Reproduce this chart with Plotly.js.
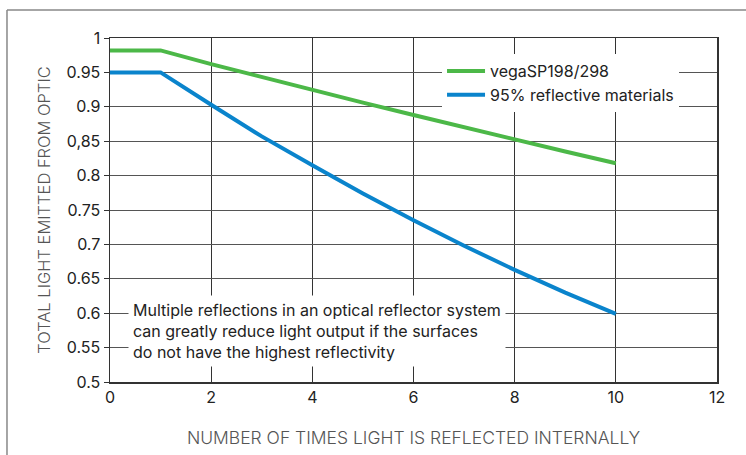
<!DOCTYPE html>
<html><head><meta charset="utf-8">
<script src="https://cdn.plot.ly/plotly-3.0.1.min.js"></script>
<style>html,body{margin:0;padding:0;background:#fff}#chart{width:746px;height:455px}</style>
</head><body><div id="chart"></div>
<script>
const reflections = [0, 1, 2, 3, 4, 5, 6, 7, 8, 9, 10];
const vegaSP = [0.982, 0.982, 0.962, 0.943, 0.924, 0.906, 0.888, 0.870, 0.852, 0.835, 0.818];
const reflective95 = [0.950, 0.950, 0.903, 0.857, 0.815, 0.774, 0.735, 0.698, 0.663, 0.630, 0.599];
const seriesNames = ['vegaSP198/298', '95% reflective materials'];
const yTickVals = [0.5, 0.55, 0.6, 0.65, 0.7, 0.75, 0.8, 0.85, 0.9, 0.95, 1];
const yTickText = ['0.5', '0.55', '0.6', '0.65', '0.7', '0.75', '0.8', '0,85', '0.9', '0.95', '1'];
const xTickVals = [0, 2, 4, 6, 8, 10, 12];
const noteText = 'Multiple reflections in an optical reflector system<br>can greatly reduce light output if the surfaces<br>do not have the highest reflectivity';

const font = 'Inter, Liberation Sans, Arial, sans-serif';
const traces = [
  {x: reflections, y: vegaSP, name: seriesNames[0], mode: 'lines', line: {color: '#4cb848', width: 4}},
  {x: reflections, y: reflective95, name: seriesNames[1], mode: 'lines', line: {color: '#0a84cc', width: 4}}
];
const layout = {
  width: 746, height: 455,
  margin: {l: 110, r: 29, t: 38, b: 73},
  paper_bgcolor: '#fff', plot_bgcolor: '#fff',
  font: {family: font, size: 16, color: '#222'},
  showlegend: true,
  legend: {x: 0.547, y: 0.9535, xanchor: 'left', yanchor: 'top', bgcolor: '#fff', borderwidth: 0,
    itemwidth: 38, font: {family: font, size: 16, color: '#222'}, tracegroupgap: 0},
  xaxis: {range: [0, 12], tickvals: xTickVals, showgrid: true, gridcolor: '#333', gridwidth: 1,
    showline: true, linecolor: '#333', linewidth: 1.5, mirror: true, zeroline: false, ticks: '',
    tickfont: {family: font, size: 16, color: '#222'},
    title: {text: 'NUMBER OF TIMES LIGHT IS REFLECTED INTERNALLY', font: {family: font, size: 17.5, color: '#555', weight: 300}, standoff: 26}},
  yaxis: {range: [0.5, 1], tickvals: yTickVals, ticktext: yTickText, showgrid: true, gridcolor: '#555', gridwidth: 1,
    showline: true, linecolor: '#333', linewidth: 1.5, mirror: true, zeroline: false, ticks: 'outside', ticklen: 5, tickcolor: '#333',
    tickfont: {family: font, size: 16, color: '#222'},
    title: {text: 'TOTAL LIGHT EMITTED FROM OPTIC', font: {family: font, size: 16.5, color: '#555', weight: 300}, standoff: 11}},
  annotations: [{xref: 'paper', yref: 'paper', x: 0.0297, y: 0.149, xanchor: 'left', yanchor: 'middle',
    text: noteText, showarrow: false, align: 'left', bgcolor: '#fff', borderpad: 4,
    font: {family: font, size: 16, color: '#222'}}],
  shapes: [
    {type: 'line', xref: 'paper', yref: 'paper', x0: -0.1697, x1: -0.1697, y0: 1.0814, y1: -0.3, line: {color: '#888', width: 1.5}},
    {type: 'line', xref: 'paper', yref: 'paper', x0: -0.1697, x1: 1.1, y0: 1.0814, y1: 1.0814, line: {color: '#888', width: 1.5}}
  ]
};
Plotly.newPlot('chart', traces, layout, {displayModeBar: false, staticPlot: true});
</script></body></html>
